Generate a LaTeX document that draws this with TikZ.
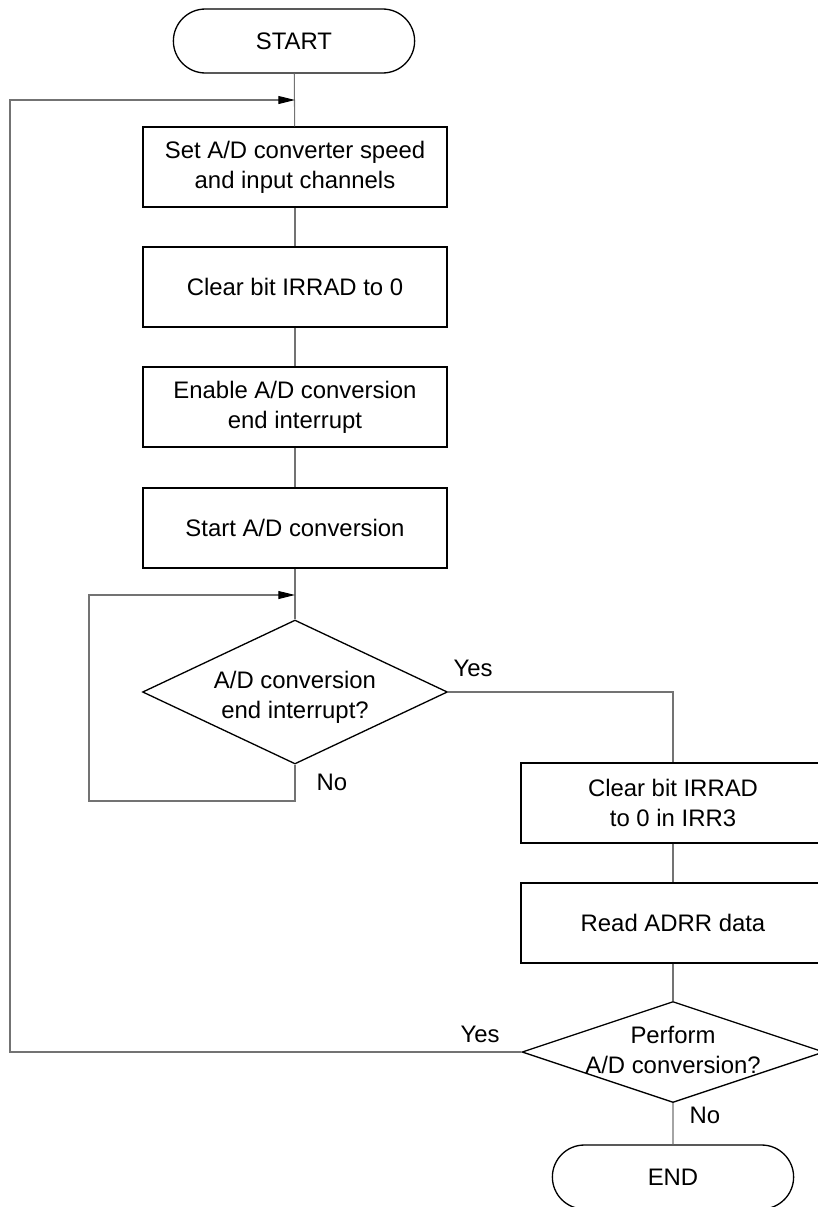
\documentclass[tikz,border=0pt]{standalone}
\usepackage{fontspec}
\setmainfont{Liberation Sans}
\usetikzlibrary{shapes.geometric,shapes.misc,arrows.meta}
\begin{document}
\begin{tikzpicture}[x=0.02cm, y=-0.02cm,
        every node/.style={font=\fontsize{13.6}{17}\selectfont, align=center},
        termbox/.style={draw, line width=0.75pt, rounded rectangle,
            minimum width=5.06cm, minimum height=1.28cm},
        procbox/.style={draw, line width=0.75pt, rectangle,
            minimum width=6.08cm, minimum height=1.6cm},
        decbox/.style={draw, line width=0.75pt, diamond, inner sep=0pt},
        flowline/.style={draw=black!55, line width=0.6pt},
        flowarrow/.style={flowline, -{Triangle[length=9.5pt, width=4.5pt, black]}}]
            \useasboundingbox (0,0) rectangle (818,1207);

            % Main column
            \node[termbox] (start) at (294,41) {START};
            \node[procbox] (setup) at (295,167) {Set A/D converter speed\\and input channels};
            \node[procbox] (clear) at (295,287) {Clear bit IRRAD to 0};
            \node[procbox] (enable) at (295,407) {Enable A/D conversion\\end interrupt};
            \node[procbox] (begin) at (295,528) {Start A/D conversion};

            % Wait decision
            \node[decbox, minimum width=6.1cm, minimum height=2.88cm] (wait) at (295,692) {};
            \node (waittxt) at (295,697) {A/D conversion\\end interrupt?};

            % Right column
            \node[procbox] (clrflag) at (673,803) {Clear bit IRRAD\\to 0 in IRR3};
            \node[procbox] (read) at (673,923) {Read ADRR data};
            \node[decbox, minimum width=6.04cm, minimum height=2.02cm] (again) at (673,1052) {};
            \node (againtxt) at (673,1050) {Perform\\A/D conversion?};
            \node[termbox] (finish) at (673,1177) {END};

            % Branch labels
            \node (yes1) at (473,668) {Yes};
            \node (no1) at (332,782) {No};
            \node (yes2) at (480,1034) {Yes};
            \node (no2) at (705,1115) {No};

            % Loop points
            \coordinate (setupin) at (295,100);
            \coordinate (waitin) at (295,595);
            \coordinate (waitlp) at (89,801);
            \coordinate (againlp) at (10,1052);

            % Connectors
            \draw[flowline] (start) -- (setup);
            \draw[flowline] (setup) -- (clear);
            \draw[flowline] (clear) -- (enable);
            \draw[flowline] (enable) -- (begin);
            \draw[flowline] (begin) -- (wait);
            \draw[flowline] (wait.east) -| (clrflag.north);
            \draw[flowline] (clrflag) -- (read);
            \draw[flowline] (read) -- (again);
            \draw[flowline] (again) -- (finish);
            \draw[flowarrow] (wait.south) |- (waitlp) |- (waitin);
            \draw[flowarrow] (again.west) -- (againlp) |- (setupin);
        \end{tikzpicture}
\end{document}
